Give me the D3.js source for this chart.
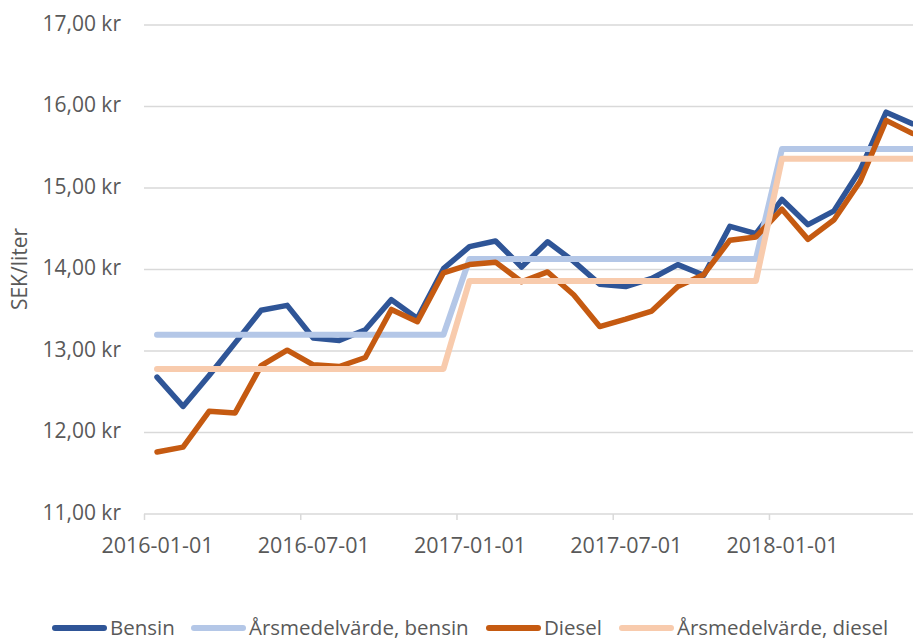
<!DOCTYPE html>
<html>
<head>
<meta charset="utf-8">
<script src="https://cdn.jsdelivr.net/npm/d3@7"></script>
<style>
  body { margin: 0; background: #fff; overflow: hidden; }
  text { font-family: "Open Sans", sans-serif; font-size: 21px; fill: #595959; }
  .legend text { font-size: 20.5px; }
</style>
</head>
<body>
<svg id="chart" width="913" height="640" viewBox="0 0 913 640"></svg>
<script>
// Monthly prices, SEK per litre (Jan 2016 – Jun 2018)
const months = [
  "2016-01-01", "2016-02-01", "2016-03-01", "2016-04-01", "2016-05-01", "2016-06-01",
  "2016-07-01", "2016-08-01", "2016-09-01", "2016-10-01", "2016-11-01", "2016-12-01",
  "2017-01-01", "2017-02-01", "2017-03-01", "2017-04-01", "2017-05-01", "2017-06-01",
  "2017-07-01", "2017-08-01", "2017-09-01", "2017-10-01", "2017-11-01", "2017-12-01",
  "2018-01-01", "2018-02-01", "2018-03-01", "2018-04-01", "2018-05-01", "2018-06-01",
];
const bensin = [
  12.68, 12.32, 12.70, 13.10, 13.50, 13.56, 13.16, 13.13, 13.26, 13.63, 13.40, 14.01,
  14.28, 14.35, 14.03, 14.34, 14.10, 13.82, 13.79, 13.89, 14.06, 13.93, 14.53, 14.44,
  14.86, 14.55, 14.72, 15.22, 15.93, 15.79,
];
const diesel = [
  11.76, 11.82, 12.26, 12.24, 12.82, 13.01, 12.83, 12.81, 12.92, 13.51, 13.36, 13.96,
  14.06, 14.09, 13.85, 13.97, 13.69, 13.30, 13.39, 13.49, 13.79, 13.94, 14.36, 14.40,
  14.74, 14.37, 14.61, 15.08, 15.83, 15.67,
];
const years = ["2016", "2017", "2018"];
const meanBensin = [13.20, 14.13, 15.48];
const meanDiesel = [12.78, 13.86, 15.36];
const yTicks = [11, 12, 13, 14, 15, 16, 17];
const xTickMonths = ["2016-01-01", "2016-07-01", "2017-01-01", "2017-07-01", "2018-01-01"];

const yearMean = (means) => months.map((m) => means[years.indexOf(m.slice(0, 4))]);

const series = [
  { name: "Bensin", values: bensin, color: "#2F5597", width: 5.5 },
  { name: "Årsmedelvärde, bensin", values: yearMean(meanBensin), color: "#B4C7E7", width: 6 },
  { name: "Diesel", values: diesel, color: "#C55A11", width: 5.5 },
  { name: "Årsmedelvärde, diesel", values: yearMean(meanDiesel), color: "#F8CBAD", width: 6 },
];

const svg = d3.select("#chart");
const left = 144, slot = 26.04;
const x = d3.scaleLinear().domain([0, months.length]).range([left, left + slot * months.length]);
const y = d3.scaleLinear().domain([11, 17]).range([514, 25]);

// Gridlines
svg.append("g")
  .selectAll("line")
  .data(yTicks.slice(1))
  .enter()
  .append("line")
  .attr("x1", left)
  .attr("x2", 913)
  .attr("y1", (d) => y(d))
  .attr("y2", (d) => y(d))
  .attr("stroke", "#d9d9d9")
  .attr("stroke-width", 1.5);

// Y tick labels
svg.append("g")
  .selectAll("text")
  .data(yTicks)
  .enter()
  .append("text")
  .attr("x", 121)
  .attr("y", (d) => y(d))
  .attr("text-anchor", "end")
  .attr("dominant-baseline", "middle")
  .text((d) => d3.format(".2f")(d).replace(".", ",") + " kr");

// X axis: ticks on month boundaries, labels centred on the month
const xAxis = svg.append("g")
  .attr("transform", `translate(0,${y(11)})`)
  .call(
    d3.axisBottom(x)
      .tickValues(xTickMonths.map((m) => months.indexOf(m)))
      .tickFormat((i) => months[i])
      .tickSize(6)
      .tickPadding(18)
  );
xAxis.select(".domain").attr("stroke", "#d9d9d9").attr("stroke-width", 1.5).attr("d", `M${left},0H913`);
xAxis.selectAll(".tick line").attr("stroke", "#d9d9d9").attr("stroke-width", 1.5);
xAxis.selectAll(".tick text")
  .attr("fill", null)
  .attr("x", slot / 2)
  .style("font-family", '"Open Sans", sans-serif')
  .style("font-size", "21.5px");

// Y axis title
svg.append("text")
  .attr("transform", "rotate(-90)")
  .attr("x", -269)
  .attr("y", 27)
  .attr("text-anchor", "middle")
  .text("SEK/liter");

// Lines
const line = d3.line()
  .x((d, i) => x(i + 0.5))
  .y((d) => y(d));

svg.append("g")
  .selectAll("path")
  .data(series)
  .enter()
  .append("path")
  .attr("d", (d) => line(d.values))
  .attr("fill", "none")
  .attr("stroke", (d) => d.color)
  .attr("stroke-width", (d) => d.width)
  .attr("stroke-linejoin", "round")
  .attr("stroke-linecap", "round");

// Legend
const legendX = [52, 191, 486, 619];
const lg = svg.append("g")
  .attr("class", "legend")
  .selectAll("g")
  .data(series)
  .enter()
  .append("g")
  .attr("transform", (d, i) => `translate(${legendX[i]},628)`);
lg.append("line")
  .attr("x1", 3)
  .attr("x2", 52)
  .attr("stroke", (d) => d.color)
  .attr("stroke-width", 6)
  .attr("stroke-linecap", "round");
lg.append("text")
  .attr("x", 58)
  .attr("dy", "0.35em")
  .text((d) => d.name);
</script>
</body>
</html>
